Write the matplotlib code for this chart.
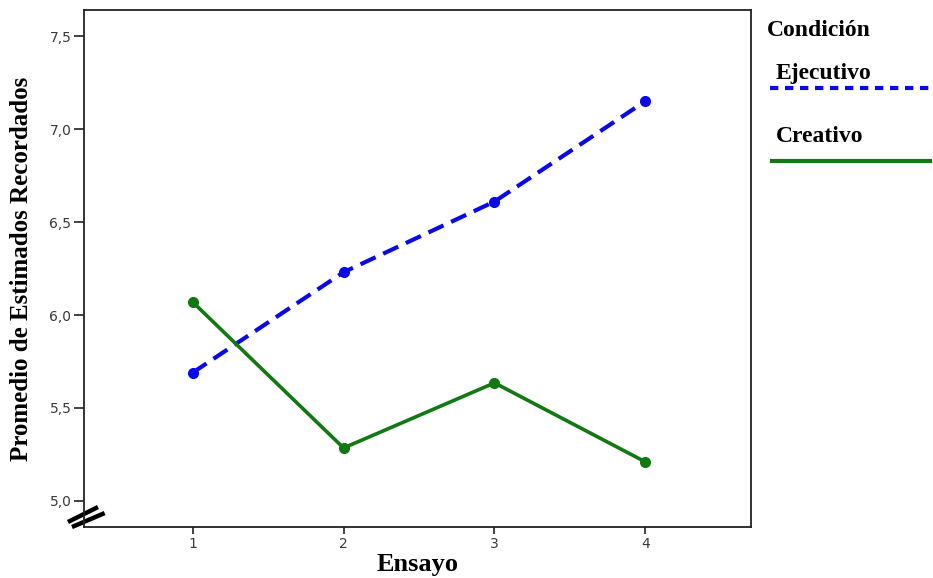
import matplotlib
matplotlib.use("Agg")
import matplotlib.pyplot as plt
from matplotlib.lines import Line2D

ensayo = [1, 2, 3, 4]
ejecutivo = [5.69, 6.23, 6.61, 7.15]
creativo = [6.07, 5.285, 5.635, 5.21]
yticks = [5.0, 5.5, 6.0, 6.5, 7.0, 7.5]
ytick_labels = ["5,0", "5,5", "6,0", "6,5", "7,0", "7,5"]

fig = plt.figure(figsize=(9.33, 5.78), dpi=100)
ax = fig.add_axes([0.090, 0.0882, 0.715, 0.8945])

blue = "#0a0ae6"
green = "#127812"
ax.plot(ensayo, ejecutivo, color=blue, lw=3, dashes=(4, 2), marker="o", ms=7, zorder=3)
ax.plot(ensayo, creativo, color=green, lw=2.6, marker="o", ms=7, zorder=3)

ax.set_xlim(0.28, 4.70)
ax.set_ylim(4.86, 7.64)
ax.set_xticks(ensayo)
ax.set_xticklabels([str(e) for e in ensayo])
ax.set_yticks(yticks)
ax.set_yticklabels(ytick_labels)
ax.tick_params(direction="out", width=1.2, labelsize=10, labelcolor="#3a3a3a", color="#222222", pad=2)
ax.tick_params(axis="y", length=7)
ax.tick_params(axis="x", length=5)
for s in ax.spines.values():
    s.set_linewidth(1.3)
    s.set_color("#222222")

serif = "Liberation Serif"
ax.set_ylabel("Promedio de Estimados Recordados", fontfamily=serif, fontweight="bold", fontsize=18, labelpad=12)
fig.text(418 / 933, 1 - 564 / 578, "Ensayo", fontfamily=serif, fontweight="bold", fontsize=19, va="center", ha="center")

# axis break marks
ax.plot([-0.024, 0.021], [0.0097, 0.0387], transform=ax.transAxes,
        color="black", lw=3.2, clip_on=False, solid_capstyle="butt")
ax.plot([-0.018, 0.031], [0.0, 0.027], transform=ax.transAxes,
        color="black", lw=3.2, clip_on=False, solid_capstyle="butt")

# legend
lf = dict(fontfamily=serif, fontweight="bold", fontsize=17, va="center", ha="left")
fig.text(767 / 933, 1 - 30 / 578, "Condición", **lf)
fig.text(776 / 933, 1 - 74 / 578, "Ejecutivo", **lf)
fig.text(776 / 933, 1 - 137 / 578, "Creativo", **lf)
fig.add_artist(Line2D([770 / 933, 932 / 933], [1 - 88 / 578] * 2, color=blue, lw=3, dashes=(2, 1.6)))
fig.add_artist(Line2D([772 / 933, 930 / 933], [1 - 161 / 578] * 2, color=green, lw=3))

fig.savefig("out.png", dpi=100)
